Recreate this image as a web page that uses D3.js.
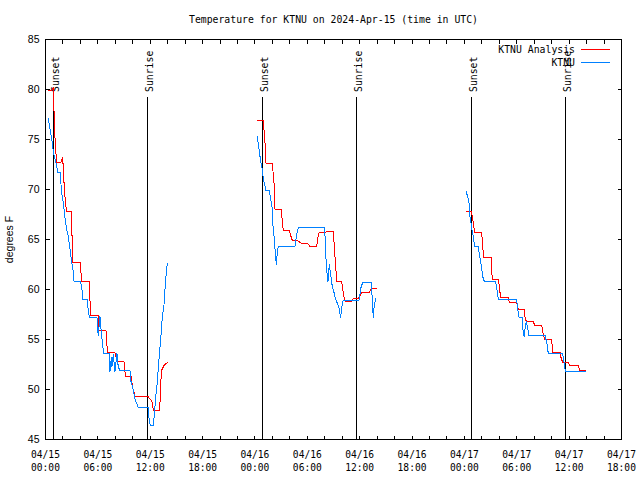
<!DOCTYPE html>
<html><head><meta charset="utf-8">
<script src="https://cdn.jsdelivr.net/npm/d3@7"></script>
<style>
html,body{margin:0;padding:0;background:#fff;}
svg{display:block;}
.mono{font-family:"DejaVu Sans Mono",monospace;}
.sans{font-family:"Liberation Sans",Arial,sans-serif;}
</style></head>
<body>
<svg id="chart" width="640" height="480"></svg>
<script>
// ---------- data (hours since 2024-04-15 00:00 UTC) ----------
const chartTitle = "Temperature for KTNU on 2024-Apr-15 (time in UTC)";
const yTicks = [45, 50, 55, 60, 65, 70, 75, 80, 85];
const seriesNames = ["KTNU Analysis", "KTNU"];

const analysisHours1 = [0.25,0.71,0.92,1.01,1.17,1.32,1.74,1.97,2.12,2.27,2.43,3.00,3.07,3.15,4.03,4.10,5.02,5.16,6.02,6.07,6.93,7.10,7.96,8.19,8.99,9.17,9.80,10.03,10.29,11.74,12.03,12.20,12.37,13.06,13.18,13.23,13.35,13.58,13.81,14.04];
const analysisTemps1 = [79.9,79.9,80.2,76.4,73.8,72.7,72.7,73.2,70.7,68.8,67.8,67.8,63.5,62.7,62.7,60.8,60.8,57.4,57.4,55.9,55.9,53.7,53.7,52.8,52.8,51.3,51.3,50.0,49.3,49.3,49.0,48.8,47.9,47.9,49.5,51.0,52.0,52.4,52.6,52.7];
const analysisHours2 = [24.27,24.96,25.15,25.27,25.99,26.22,26.30,27.02,27.18,27.25,27.94,28.13,28.28,28.85,29.36,30.04,30.31,31.07,31.26,31.37,32.03,32.22,32.98,33.17,33.37,33.94,34.17,34.40,35.00,35.27,35.84,36.27,37.07,37.33,37.95];
const analysisTemps2 = [76.9,76.9,74.7,72.6,72.6,70.3,68.0,68.0,66.4,65.9,65.9,65.3,64.9,64.9,64.6,64.6,64.3,64.3,65.5,65.7,65.7,65.8,65.8,63.3,60.8,60.8,59.3,58.8,58.8,59.1,59.1,59.7,59.7,60.1,60.1];
const analysisHours3 = [48.18,48.79,48.90,49.02,49.18,49.98,50.10,50.21,51.05,51.16,51.20,51.93,52.00,52.16,53.03,53.14,53.99,54.17,54.83,54.94,55.09,55.86,56.09,56.86,57.01,57.20,58.00,58.12,58.99,59.07,59.26,59.87,60.10,61.02,61.25,61.90];
const analysisTemps3 = [67.8,67.8,67.3,66.7,65.7,65.7,64.3,63.2,63.2,61.5,61.0,61.0,60.2,59.2,59.2,58.7,58.7,58.0,58.0,57.3,56.8,56.8,56.4,56.4,55.6,55.0,55.0,53.7,53.7,53.2,52.7,52.7,52.4,52.4,51.9,51.9];

const obsHours1 = [0.32,0.52,0.71,0.83,0.89,1.20,1.43,1.70,1.83,2.04,2.23,2.43,2.61,2.81,3.00,3.19,3.27,4.03,4.18,4.26,4.76,4.87,5.02,5.90,5.98,6.05,6.24,6.42,6.59,6.67,7.28,7.39,7.54,7.62,7.77,7.96,8.19,8.31,8.48,9.68,9.74,10.03,10.26,10.63,11.78,11.82,12.01,12.35,12.51,12.60,12.81,12.97,13.20,13.38,13.58,13.77,13.96];
const obsTemps1 = [77.1,76.0,75.0,74.5,73.7,72.7,71.7,71.7,69.7,68.7,67.2,66.0,65.3,64.0,62.7,61.8,60.8,60.8,60.0,59.0,59.0,58.2,57.2,57.2,56.0,55.4,57.3,55.5,54.1,53.6,53.6,51.8,53.2,52.3,53.5,51.8,53.6,52.5,51.9,51.9,51.0,50.0,49.0,48.2,48.2,47.3,46.4,46.4,47.8,49.0,50.7,52.7,55.0,57.2,58.5,61.0,62.7];
const obsHours2 = [24.27,24.50,24.66,24.84,24.96,25.12,25.23,25.64,25.80,25.95,26.07,26.22,26.33,26.45,26.56,26.67,28.59,28.78,28.97,31.99,32.11,32.25,32.37,32.52,32.68,32.86,33.06,33.25,33.60,33.82,33.94,34.09,35.92,36.15,36.35,37.33,37.49,37.56,37.67,37.87];
const obsTemps2 = [75.3,73.8,72.8,72.0,71.0,70.5,69.9,69.9,69.0,68.3,66.3,65.0,63.7,62.5,63.7,64.3,64.3,65.5,66.2,66.2,63.5,61.7,60.8,62.5,61.5,60.3,59.7,59.0,58.3,57.2,58.2,58.9,58.9,60.2,60.7,60.7,58.3,57.2,58.5,59.1];
const obsHours3 = [48.18,48.30,48.45,48.56,48.64,48.79,48.90,49.02,49.18,49.59,49.71,49.82,49.94,50.05,50.13,50.28,51.58,51.65,51.77,51.88,53.99,54.11,54.26,54.60,54.71,54.83,54.98,55.09,55.21,55.40,57.24,57.35,57.46,57.61,59.26,59.33,59.45,59.56,61.90];
const obsTemps3 = [69.9,69.5,69.0,68.5,67.3,66.5,65.8,65.3,64.3,64.3,63.5,63.0,62.3,61.7,61.2,60.8,60.8,60.3,59.8,59.0,59.0,58.0,57.2,57.2,56.0,55.3,56.3,56.8,56.3,55.4,55.4,55.0,54.6,53.6,53.6,53.2,52.5,51.8,51.8];

const sunEventHours = [0.90, 11.62, 24.84, 35.61, 48.79, 59.53];
const sunEventLabels = ["Sunset", "Sunrise", "Sunset", "Sunrise", "Sunset", "Sunrise"];

// ---------- setup ----------
const baseMs = Date.UTC(2024, 3, 15, 0, 0);
const toDate = h => new Date(baseMs + h * 3600000);
const svg = d3.select("#chart");
const L = 45.5, R = 621.5, T = 39.5, B = 439.5;

const x = d3.scaleUtc().domain([toDate(0), toDate(66)]).range([L, R]);
const y = d3.scaleLinear().domain([45, 85]).range([B, T]);

const colors = ["#ff0000", "#0080ff"];

// title
svg.append("text").attr("class", "mono").attr("x", (L + R) / 2).attr("y", 23)
  .attr("text-anchor", "middle").attr("font-size", "9.8px").text(chartTitle);

// sunrise / sunset lines
const sunG = svg.append("g");
sunEventHours.forEach((h, i) => {
  const xp = Math.round(x(toDate(h))) + 0.5;
  sunG.append("line").attr("x1", xp).attr("x2", xp).attr("y1", 97).attr("y2", B)
    .attr("stroke", "#000").attr("stroke-width", 1).attr("shape-rendering", "crispEdges");
  sunG.append("text").attr("class", "mono").attr("font-size", "9.8px")
    .attr("transform", `translate(${xp + 5.5},92) rotate(-90)`)
    .attr("text-anchor", "start").text(sunEventLabels[i]);
});

// axes ticks
const minorTicks = d3.utcHour.every(2).range(toDate(0), toDate(66.01));
svg.append("g").attr("transform", `translate(0,${B})`)
  .call(d3.axisBottom(x).tickValues(minorTicks).tickSize(-4).tickFormat("").offset(0))
  .call(g => g.select(".domain").remove())
  .call(g => g.selectAll("line").attr("shape-rendering", "crispEdges"));
svg.append("g").attr("transform", `translate(0,${T})`)
  .call(d3.axisTop(x).tickValues(minorTicks).tickSize(-4).tickFormat("").offset(0))
  .call(g => g.select(".domain").remove())
  .call(g => g.selectAll("line").attr("shape-rendering", "crispEdges"));
svg.append("g").attr("transform", `translate(${L},0)`)
  .call(d3.axisLeft(y).tickValues(yTicks).tickSize(-4).tickFormat(d3.format("d")).tickPadding(10).offset(0))
  .call(g => g.select(".domain").remove())
  .call(g => g.selectAll("line").attr("shape-rendering", "crispEdges"))
  .call(g => g.selectAll("text").attr("class", "sans").attr("font-size", "10.5px").attr("fill", "#000")
     .attr("x", -6).attr("dy", "0.36em"));
svg.append("g").attr("transform", `translate(${R},0)`)
  .call(d3.axisRight(y).tickValues(yTicks).tickSize(-4).tickFormat("").offset(0))
  .call(g => g.select(".domain").remove())
  .call(g => g.selectAll("line").attr("shape-rendering", "crispEdges"));

// x labels (two lines)
const majorTicks = d3.utcHour.every(6).range(toDate(0), toDate(66.01));
const fmtDay = d3.utcFormat("%m/%d"), fmtTime = d3.utcFormat("%H:%M");
const xl = svg.append("g").attr("class", "mono").attr("font-size", "9.6px").attr("text-anchor", "middle");
majorTicks.forEach(t => {
  xl.append("text").attr("x", x(t)).attr("y", 458).text(fmtDay(t));
  xl.append("text").attr("x", x(t)).attr("y", 471).text(fmtTime(t));
});

// y axis label
svg.append("text").attr("class", "sans").attr("font-size", "10.5px")
  .attr("transform", `translate(13,${(T + B) / 2}) rotate(-90)`)
  .attr("text-anchor", "middle").text("degrees F");

// frame
svg.append("rect").attr("x", L).attr("y", T).attr("width", R - L).attr("height", B - T)
  .attr("fill", "none").attr("stroke", "#000").attr("shape-rendering", "crispEdges");

// data
const line = d3.line().x(d => x(toDate(d[0]))).y(d => y(d[1]));
const series = [
  [[analysisHours1, analysisTemps1], [analysisHours2, analysisTemps2], [analysisHours3, analysisTemps3]],
  [[obsHours1, obsTemps1], [obsHours2, obsTemps2], [obsHours3, obsTemps3]]
];
series.forEach((segs, si) => {
  segs.forEach(([hs, vs]) => {
    svg.append("path").datum(hs.map((h, i) => [h, vs[i]]))
      .attr("d", line).attr("fill", "none").attr("stroke", colors[si])
      .attr("stroke-width", 1).attr("shape-rendering", "crispEdges");
  });
});

// legend
const lg = svg.append("g").attr("class", "mono").attr("font-size", "9.8px");
seriesNames.forEach((n, i) => {
  const yy = 49.5 + i * 13;
  lg.append("text").attr("x", 575).attr("y", yy + 3.5).attr("text-anchor", "end").text(n);
  lg.append("line").attr("x1", 581).attr("x2", 610).attr("y1", yy).attr("y2", yy)
    .attr("stroke", colors[i]).attr("shape-rendering", "crispEdges");
});
</script>
</body></html>
